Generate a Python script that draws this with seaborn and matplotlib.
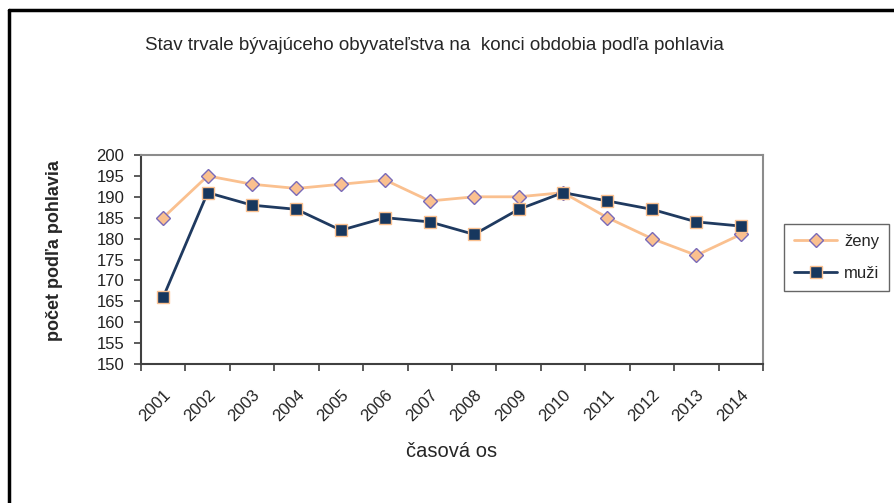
import numpy as np
import pandas as pd
import seaborn as sns
from matplotlib import pyplot as plt
from matplotlib.lines import Line2D

# data
years = ['2001', '2002', '2003', '2004', '2005', '2006', '2007',
         '2008', '2009', '2010', '2011', '2012', '2013', '2014']
zeny = [185, 195, 193, 192, 193, 194, 189, 190, 190, 191, 185, 180, 176, 181]
muzi = [166, 191, 188, 187, 182, 185, 184, 181, 187, 191, 189, 187, 184, 183]
y_ticks = [150, 155, 160, 165, 170, 175, 180, 185, 190, 195, 200]

sns.set_style('white')
plt.rcParams['font.family'] = ['Liberation Sans', 'DejaVu Sans']

W, H = 895, 503
fig = plt.figure(figsize=(W / 100, H / 100), dpi=100)
ax = fig.add_axes([141 / W, 1 - 364 / H, (763 - 141) / W, (364 - 155) / H])

df = pd.DataFrame({'x': np.arange(len(years)), 'zeny': zeny, 'muzi': muzi})

sns.lineplot(data=df, x='x', y='zeny', ax=ax, color='#FAC08F', lw=2,
             marker='D', markersize=7, markerfacecolor='#FAC08F',
             markeredgecolor='#7A6AB8', markeredgewidth=1, label='ženy')
sns.lineplot(data=df, x='x', y='muzi', ax=ax, color='#1F3A60', lw=2,
             marker='s', markersize=9, markerfacecolor='#17375E',
             markeredgecolor='#FAC08F', markeredgewidth=1, label='muži')

ax.set_xlim(-0.5, len(years) - 0.5)
ax.set_ylim(150, 200)
ax.set_yticks(y_ticks)
ax.set_yticklabels([str(v) for v in y_ticks], fontsize=12, color='#222222')
ax.set_xticks(np.arange(len(years)))
ax.set_xticklabels(years, rotation=45, fontsize=12, ha='right',
                   rotation_mode='anchor', color='#222222')
ax.set_xticks(np.arange(len(years) + 1) - 0.5, minor=True)
ax.tick_params(axis='x', which='major', length=0, pad=17)
ax.tick_params(axis='x', which='minor', length=5, width=1.2, color='#404040',
               direction='out', bottom=True)
ax.tick_params(axis='y', length=5, width=1.2, color='#404040',
               direction='out', left=True, pad=7)

for side in ['left', 'bottom']:
    ax.spines[side].set_color('#404040')
    ax.spines[side].set_linewidth(1.5)
for side in ['top', 'right']:
    ax.spines[side].set_color('#8C8C8C')
    ax.spines[side].set_linewidth(1.5)

ax.set_xlabel('časová os', fontsize=14.5, labelpad=12.5)
ax.set_ylabel('počet podľa pohlavia', fontsize=13, fontweight='bold')
ax.yaxis.set_label_coords(-0.125, 0.545)

leg = ax.legend(loc='upper left', bbox_to_anchor=(784 / W, 1 - 224 / H),
                bbox_transform=fig.transFigure, frameon=True, fancybox=False,
                fontsize=12, handlelength=2.6, labelspacing=1.0,
                borderpad=0.6, handletextpad=0.4, borderaxespad=0)
leg.get_frame().set_edgecolor('#404040')
leg.get_frame().set_linewidth(1.0)

fig.text(434 / W, 1 - 45 / H,
         'Stav trvale bývajúceho obyvateľstva na  konci obdobia podľa pohlavia',
         ha='center', va='center', fontsize=13.5)

# outer chart frame (only left and top edges are visible)
fig.add_artist(Line2D([9 / W, 9 / W], [-0.1, 1 - 10 / H], color='black', lw=2.5,
                      transform=fig.transFigure))
fig.add_artist(Line2D([9 / W, 1.1], [1 - 10 / H, 1 - 10 / H], color='black', lw=2.5,
                      transform=fig.transFigure))

fig.savefig('out.png', dpi=100)
